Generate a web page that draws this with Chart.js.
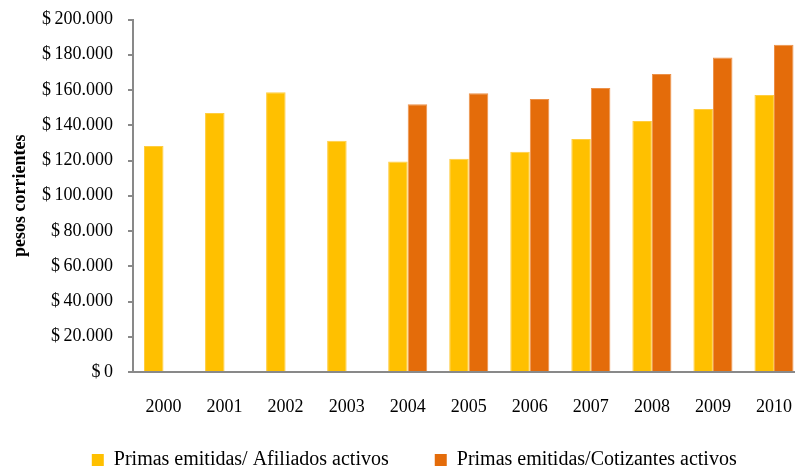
<!DOCTYPE html>
<html>
<head>
<meta charset="utf-8">
<script src="https://cdn.jsdelivr.net/npm/chart.js@4"></script>
<style>
html,body{margin:0;padding:0;background:#fff;overflow:hidden;}
canvas{display:block;}
</style>
</head>
<body>
<canvas id="c" width="806" height="472"></canvas>
<script>
const categories = ['2000','2001','2002','2003','2004','2005','2006','2007','2008','2009','2010'];
const afiliados = [128200, 147000, 158700, 131200, 119500, 121000, 125000, 132200, 142400, 149200, 157200];
const cotizantes = [null, null, null, null, 151900, 158100, 154900, 161100, 169100, 178500, 185700];
const seriesNames = ['Primas emitidas/ Afiliados activos', 'Primas emitidas/Cotizantes activos'];
const yTicks = [0, 20000, 40000, 60000, 80000, 100000, 120000, 140000, 160000, 180000, 200000];
const yTitle = 'pesos corrientes';

const FONT = "'Liberation Serif', 'Times New Roman', serif";
const AXIS = '#898989';

function fmt(v){
  return '$\u2009' + Math.round(v).toString().replace(/\B(?=(\d{3})+(?!\d))/g, '.');
}

const legendPlace = {
  id: 'legendPlace',
  afterLayout(chart){
    const lg = chart.legend;
    if (!lg) return;
    const pad = chart.options.plugins.legend.labels.padding;
    const itemH = chart.options.plugins.legend.labels.font.size;
    lg.top = 460 - itemH / 2 - pad;
    lg.bottom = chart.height;
    lg.height = lg.bottom - lg.top;
    lg.left += 12; lg.right += 12;
  }
};

new Chart(document.getElementById('c'), {
  type: 'bar',
  data: {
    labels: categories,
    datasets: [
      { label: seriesNames[0], data: afiliados, backgroundColor: '#FFC000', borderColor: '#FFCD40', borderWidth: 1, borderSkipped: 'bottom' },
      { label: seriesNames[1], data: cotizantes, backgroundColor: '#E46C0A', borderColor: '#EC9048', borderWidth: 1, borderSkipped: 'bottom' }
    ]
  },
  plugins: [legendPlace],
  options: {
    responsive: false,
    animation: false,
    devicePixelRatio: 1,
    layout: { padding: { top: 19.5, right: 1.5, left: 0, bottom: 0 } },
    datasets: { bar: { categoryPercentage: 0.64, barPercentage: 1.0 } },
    plugins: {
      legend: {
        position: 'bottom',
        maxHeight: 40,
        labels: {
          font: { family: FONT, size: 20 },
          color: '#000',
          boxWidth: 12,
          boxHeight: 12,
          padding: 46,
          generateLabels: chart => chart.data.datasets.map((d, i) => ({
            text: d.label, fillStyle: d.backgroundColor, strokeStyle: d.backgroundColor,
            lineWidth: 0, hidden: false, datasetIndex: i, fontColor: '#000'
          }))
        }
      },
      tooltip: { enabled: false }
    },
    scales: {
      x: {
        afterFit: s => { s.height = 60; s.paddingLeft = 0; s.paddingRight = 0; },
        grid: { display: true, drawOnChartArea: false, drawTicks: false },
        border: { display: true, color: AXIS, width: 2 },
        ticks: { font: { family: FONT, size: 18 }, color: '#000', padding: 24, maxRotation: 0 }
      },
      y: {
        min: 0, max: 200000,
        afterBuildTicks: s => { s.ticks = yTicks.map(v => ({ value: v })); },
        afterFit: s => { s.width = 133; s.paddingTop = 0; s.paddingBottom = 0; },
        grid: { display: true, drawOnChartArea: false, drawTicks: true, tickLength: 5, color: AXIS, lineWidth: 2 },
        border: { display: true, color: AXIS, width: 2 },
        ticks: { font: { family: FONT, size: 18 }, color: '#000', padding: 15, callback: v => fmt(v) },
        title: { display: true, text: yTitle, font: { family: FONT, size: 18, weight: 'bold' }, color: '#000', padding: { top: 10, bottom: 0 } }
      }
    }
  }
});
</script>
</body>
</html>
